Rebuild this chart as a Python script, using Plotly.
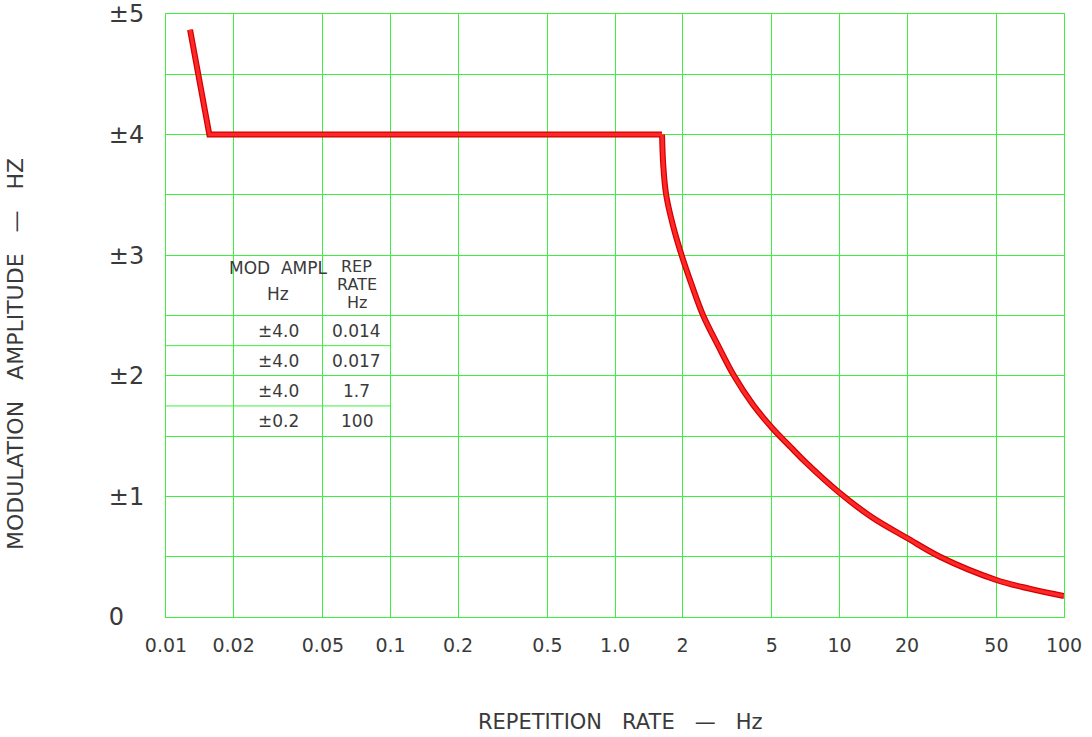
import math
import plotly.graph_objects as go

# ---- data ----
rep_rate = [0.0128, 0.0156, 1.62, 1.64, 1.69, 1.81, 1.98, 2.20, 2.47, 2.88, 3.39,
            4.12, 5.0, 6.2, 7.0, 10, 14, 20, 28, 50, 70, 100]
mod_ampl = [4.87, 4.0, 4.0, 3.75, 3.5, 3.25, 3.0, 2.75, 2.5, 2.25, 2.0,
            1.76, 1.57, 1.39, 1.29, 1.03, 0.825, 0.655, 0.5, 0.307, 0.235, 0.174]
KNEE = 2  # index of the point where the curved roll-off starts

x_tickvals = [0.01, 0.02, 0.05, 0.1, 0.2, 0.5, 1, 2, 5, 10, 20, 50, 100]
x_ticktext = ["0.01", "0.02", "0.05", "0.1", "0.2", "0.5", "1.0", "2", "5", "10", "20", "50", "100"]
y_tickvals = [0, 0.5, 1, 1.5, 2, 2.5, 3, 3.5, 4, 4.5, 5]
y_ticktext = ["0\u2007\u2009", "", "\u00b11", "", "\u00b12", "", "\u00b13", "", "\u00b14", "", "\u00b15"]

# embedded table
table_col_x = [0.0316, 0.0707]
table_header_col1 = ["MOD  AMPL", "Hz"]
table_header_col1_y = [2.895, 2.675]
table_header_col2 = ["REP", "RATE", "Hz"]
table_header_col2_y = [2.905, 2.76, 2.61]
table_mod_ampl = ["\u00b14.0", "\u00b14.0", "\u00b14.0", "\u00b10.2"]
table_rep_rate = ["0.014", "0.017", "1.7", "100"]
table_row_y = [2.375, 2.125, 1.875, 1.625]
table_extra_lines_y = [2.25, 1.75]
table_x_span = [0.01, 0.1]

GREEN = "#3ef03e"
TXT = "#3a3a3a"
FONT = "DejaVu Sans"

fig = go.Figure()
segments = [(rep_rate[:KNEE + 1], mod_ampl[:KNEE + 1], "linear"),
            (rep_rate[KNEE:], mod_ampl[KNEE:], "spline")]
for xs, ys, shp in segments:
    fig.add_trace(go.Scatter(x=xs, y=ys, mode="lines",
                             line=dict(color="#d00000", width=6, shape=shp, smoothing=1.0),
                             hoverinfo="skip"))
for xs, ys, shp in segments:
    fig.add_trace(go.Scatter(x=xs, y=ys, mode="lines",
                             line=dict(color="#ff2828", width=3.5, shape=shp, smoothing=1.0)))

for yv in table_extra_lines_y:
    fig.add_shape(type="line", xref="x", yref="y",
                  x0=table_x_span[0], x1=table_x_span[1], y0=yv, y1=yv,
                  line=dict(color=GREEN, width=1), layer="below")

tfont = dict(family=FONT, size=17, color=TXT)
hfont = dict(family=FONT, size=16, color=TXT)
cx = [math.log10(v) for v in table_col_x]  # annotations on a log axis use log10 positions
for txt, yv in zip(table_header_col1, table_header_col1_y):
    fig.add_annotation(x=cx[0], y=yv, xref="x", yref="y", text=txt,
                       showarrow=False, font=tfont)
for txt, yv in zip(table_header_col2, table_header_col2_y):
    fig.add_annotation(x=cx[1], y=yv, xref="x", yref="y", text=txt,
                       showarrow=False, font=hfont, height=17)
for a, r, yv in zip(table_mod_ampl, table_rep_rate, table_row_y):
    fig.add_annotation(x=cx[0], y=yv, xref="x", yref="y", text=a,
                       showarrow=False, font=tfont)
    fig.add_annotation(x=cx[1], y=yv, xref="x", yref="y", text=r,
                       showarrow=False, font=tfont)

# axis titles (positions relative to the plot area: left 166, bottom 617, width 898, height 603)
fig.add_annotation(xref="paper", yref="paper", x=(620 - 166) / 898, y=-(722 - 617) / 603,
                   text="REPETITION\u00a0\u00a0\u00a0RATE\u00a0\u00a0\u00a0\u2014\u00a0\u00a0\u00a0Hz",
                   showarrow=False, xanchor="center", yanchor="middle",
                   font=dict(family=FONT, size=21, color=TXT))
fig.add_annotation(xref="paper", yref="paper", x=(15 - 166) / 898, y=1 - (354 - 14) / 603,
                   text="MODULATION\u00a0\u00a0\u00a0AMPLITUDE\u00a0\u00a0\u00a0\u2014\u00a0\u00a0\u00a0HZ",
                   showarrow=False, textangle=-90,
                   xanchor="center", yanchor="middle",
                   font=dict(family=FONT, size=22, color=TXT))

# full-window figure; the page's default 8px body margin is removed after plotting
fig.update_layout(
    width=1092, height=737,
    margin=dict(l=166, r=28, t=14, b=120, autoexpand=False),
    paper_bgcolor="white", plot_bgcolor="white",
    showlegend=False,
    xaxis=dict(type="log", range=[-2, 2], tickmode="array",
               tickvals=x_tickvals, ticktext=x_ticktext, automargin=False,
               showgrid=True, gridcolor=GREEN, gridwidth=1,
               showline=True, linecolor=GREEN, linewidth=1, mirror=True,
               ticks="", ticklabelstandoff=11, zeroline=False,
               ticklabeloverflow="allow",
               tickfont=dict(family=FONT, size=19, color=TXT)),
    yaxis=dict(range=[0, 5], tickmode="array",
               tickvals=y_tickvals, ticktext=y_ticktext, automargin=False,
               showgrid=True, gridcolor=GREEN, gridwidth=1,
               showline=True, linecolor=GREEN, linewidth=1, mirror=True,
               ticks="", ticklabelstandoff=16, zeroline=False,
               ticklabeloverflow="allow",
               tickfont=dict(family=FONT, size=24, color=TXT)),
)

fig.write_html(
    "out.html",
    config={"displayModeBar": False},
    post_script="document.body.style.margin='0';document.body.style.overflow='hidden';",
)
